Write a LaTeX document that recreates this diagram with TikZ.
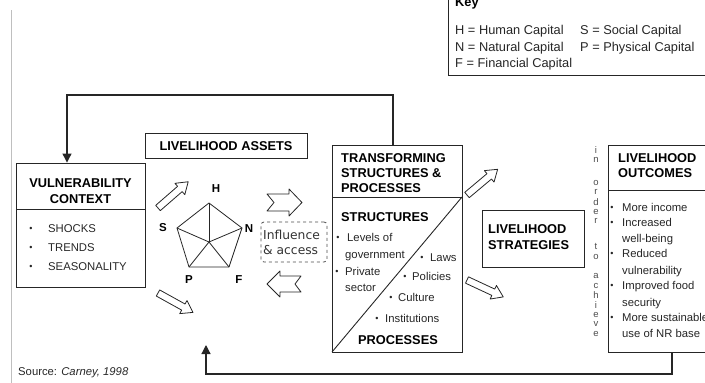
\documentclass[tikz,border=0pt]{standalone}
\usepackage{fontspec}
\setmainfont{Liberation Sans}
\newfontfamily\djv{DejaVu Sans}
\usetikzlibrary{arrows.meta}
\begin{document}
\begin{tikzpicture}[x=1pt,y=-1pt,
  box/.style={draw=black!85, line width=0.9pt, inner sep=0pt},
  ttl/.style={font=\fontsize{12.8}{15}\selectfont\bfseries, anchor=base west, inner sep=0pt},
  ttlc/.style={font=\fontsize{12.8}{15}\selectfont\bfseries, anchor=base, inner sep=0pt},
  txt/.style={font=\fontsize{11.3}{14}\selectfont, anchor=base west, inner sep=0pt, text=black!85},
  bul/.style={font=\fontsize{9}{11}\selectfont, anchor=base, inner sep=0pt, text=black!85},
  keytxt/.style={font=\fontsize{12.8}{15}\selectfont, anchor=base west, inner sep=0pt, text=black!85},
  vlet/.style={font=\fontsize{9.5}{10}\selectfont, inner sep=0pt, text=black!70},
  plab/.style={font=\fontsize{11.5}{13}\selectfont\bfseries, inner sep=0pt},
  hollow/.style={draw=black!85, line width=0.8pt, fill=white, line join=round},
  fb/.style={draw=black!85, line width=1.2pt, -{Triangle[length=9pt,width=9pt]}},
]
\useasboundingbox (0,0) rectangle (705,383);
\draw[gray!50, line width=0.8pt] (11,10) -- (11,383);

% key
\node[box, minimum width=267pt, minimum height=80pt] (key) at (581.5,35) {};
\node[ttl] (keyt) at (455,6) {Key};
\node[keytxt] (k1) at (455,34.5) {H = Human Capital};
\node[keytxt] (k2) at (580,34.5) {S = Social Capital};
\node[keytxt] (k3) at (455,51) {N = Natural Capital};
\node[keytxt] (k4) at (580,51) {P = Physical Capital};
\node[keytxt] (k5) at (455,67.5) {F = Financial Capital};

% main boxes
\node[box, minimum width=129pt, minimum height=124pt] (vul) at (80.5,225) {};
\node[box, minimum width=162pt, minimum height=25pt] (assets) at (226,145.5) {};
\node[box, minimum width=130pt, minimum height=207pt] (trans) at (397,248.5) {};
\node[box, minimum width=102pt, minimum height=57pt] (strat) at (533,238.5) {};
\node[box, minimum width=107pt, minimum height=207pt] (outc) at (661.5,248.5) {};
\node[draw=black!70, dashed, line width=0.8pt, rounded corners=3pt, minimum width=66pt, minimum height=40pt] (infl) at (294,242) {};

% inner dividers
\draw[black!85, line width=0.9pt] (16,209) -- (145,209);
\draw[black!85, line width=0.9pt] (332,197) -- (462,197);
\draw[black!85, line width=0.9pt] (332,352) -- (462,197);
\draw[black!85, line width=0.9pt] (608,190) -- (715,190);

% vulnerability text
\node[ttlc] (v1) at (80.5,187.5) {VULNERABILITY};
\node[ttlc] (v2) at (80.5,203.5) {CONTEXT};
\node[bul] (vb1) at (31,231) {•};
\node[txt] (vt1) at (48,232) {SHOCKS};
\node[bul] (vb2) at (31,250) {•};
\node[txt] (vt2) at (48,251) {TRENDS};
\node[bul] (vb3) at (31,269) {•};
\node[txt] (vt3) at (48,270) {SEASONALITY};

% assets
\node[ttlc] (at) at (226,150) {LIVELIHOOD ASSETS};

% pentagon
\coordinate (pH) at (209,203);
\coordinate (pN) at (242,228);
\coordinate (pF) at (229,267);
\coordinate (pP) at (189,267);
\coordinate (pS) at (177,228);
\coordinate (pC) at (209,242);
\draw[black!85, line width=0.8pt, line join=round] (pH) -- (pN) -- (pF) -- (pP) -- (pS) -- cycle;
\foreach \v in {pH,pN,pF,pP,pS} \draw[black!85, line width=0.8pt] (pC) -- (\v);
\node[plab] (lH) at (216,189) {H};
\node[plab] (lN) at (249,229) {N};
\node[plab] (lF) at (239,280) {F};
\node[plab] (lP) at (189,280) {P};
\node[plab] (lS) at (163,228) {S};

% hollow diagonal arrows
\foreach \px/\py/\ang in {158/208/41, 158/293/-29, 467/195/40, 467/280/-25}{
  \begin{scope}[shift={(\px,\py)}, rotate=\ang]
    \draw[hollow] (0,-3.5) -- (29,-3.5) -- (29,-7.5) -- (40,0) -- (29,7.5) -- (29,3.5) -- (0,3.5) -- cycle;
  \end{scope}
}
% hollow horizontal arrows
\draw[hollow] (267,194) -- (289,194) -- (289,189) -- (302,202.5) -- (289,216) -- (289,211) -- (267,211) -- (274,202.5) -- cycle;
\draw[hollow] (267,284) -- (280,271) -- (280,276) -- (301,276) -- (295,284) -- (301,292) -- (280,292) -- (280,297) -- cycle;

% influence
\node[font=\djv\fontsize{12.3}{14}\selectfont, anchor=base west, inner sep=0pt, text=black!80] (i1) at (263,239.5) {Influence};
\node[font=\djv\fontsize{12.3}{14}\selectfont, anchor=base west, inner sep=0pt, text=black!80] (i2) at (263,254.5) {\& access};

% transforming
\node[ttl] (t1) at (341,162.5) {TRANSFORMING};
\node[ttl] (t2) at (341,177.5) {STRUCTURES \&};
\node[ttl] (t3) at (341,192.5) {PROCESSES};
\node[ttl] (t4) at (341,221.5) {STRUCTURES};
\node[bul] (tb1) at (338,240) {•};
\node[txt] (tt1) at (347,241) {Levels of};
\node[txt] (tt2) at (345,258) {government};
\node[bul] (tb3) at (337,274) {•};
\node[txt] (tt3) at (345,275) {Private};
\node[txt] (tt4) at (345,291) {sector};
\node[bul] (tb5) at (422,260) {•};
\node[txt] (tt5) at (430,261) {Laws};
\node[bul] (tb6) at (405,279) {•};
\node[txt] (tt6) at (412,280) {Policies};
\node[bul] (tb7) at (391,300) {•};
\node[txt] (tt7) at (398,301) {Culture};
\node[bul] (tb8) at (377,321) {•};
\node[txt] (tt8) at (385,322) {Institutions};
\node[ttlc] (t5) at (398,344.5) {PROCESSES};

% strategies
\node[ttl] (s1) at (488,233.5) {LIVELIHOOD};
\node[ttl] (s2) at (488,249.5) {STRATEGIES};

% in order to achieve
\foreach \l/\yy [count=\i] in {i/150,n/160,o/183,r/192,d/202,e/212,r/221,t/246,o/257,a/276,c/286,h/295.5,i/305,e/314.5,v/324,e/333.5}
  \node[vlet] (io\i) at (596,\yy) {\l};

% outcomes
\node[ttl] (o1) at (618,162.5) {LIVELIHOOD};
\node[ttl] (o2) at (618,177.5) {OUTCOMES};
\node[bul] (ob1) at (612,210) {•};
\node[txt] (ot1) at (622,211) {More income};
\node[bul] (ob2) at (612,225) {•};
\node[txt] (ot2) at (622,226) {Increased};
\node[txt] (ot3) at (622,242) {well-being};
\node[bul] (ob4) at (612,256) {•};
\node[txt] (ot4) at (622,257) {Reduced};
\node[txt] (ot5) at (622,274) {vulnerability};
\node[bul] (ob6) at (612,288) {•};
\node[txt] (ot6) at (622,289) {Improved food};
\node[txt] (ot7) at (622,306) {security};
\node[bul] (ob8) at (612,320) {•};
\node[txt] (ot8) at (622,321) {More sustainable};
\node[txt] (ot9) at (622,337) {use of NR base};

% feedback arrows
\coordinate (tl) at (67,95);
\draw[fb] ([xshift=-4pt]trans.north) |- (tl) -- (tl |- vul.north);
\coordinate (bl) at (206,374);
\coordinate (bt) at (206,345);
\draw[fb] ([xshift=10.5pt]outc.south) |- (bl) -- (bt);

% source
\node[txt] (src) at (18,375) {Source: \textit{Carney, 1998}};
\end{tikzpicture}
\end{document}
